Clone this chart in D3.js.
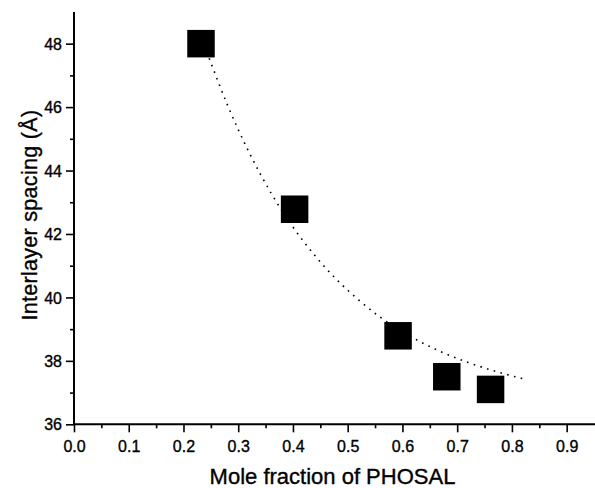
<!DOCTYPE html>
<html>
<head>
<meta charset="utf-8">
<script src="https://cdn.jsdelivr.net/npm/d3@7"></script>
<style>
  html, body { margin: 0; padding: 0; background: #fff; }
  svg { display: block; }
  text { font-family: "Liberation Sans", Arial, Helvetica, sans-serif; fill: #000; stroke: #000; stroke-width: 0.35px; }
</style>
</head>
<body>
<svg id="chart" width="595" height="488"></svg>
<script>
// ---- data ----
const moleFraction = [0.232, 0.403, 0.592, 0.681, 0.761];
const spacing      = [48.0, 42.78, 38.79, 37.50, 37.10];

// dotted fit curve
const curveX = [0.247, 0.28, 0.32, 0.36, 0.40, 0.44, 0.48, 0.52, 0.56, 0.62, 0.67, 0.72, 0.77, 0.824];
const curveY = [47.54, 46.08, 44.57, 43.29, 42.22, 41.32, 40.56, 39.92, 39.37, 38.72, 38.29, 37.95, 37.67, 37.42];

const xMajorTicks = [0, 0.1, 0.2, 0.3, 0.4, 0.5, 0.6, 0.7, 0.8, 0.9];
const xMinorTicks = [0.05, 0.15, 0.25, 0.35, 0.45, 0.55, 0.65, 0.75, 0.85];
const yMajorTicks = [36, 38, 40, 42, 44, 46, 48];
const yMinorTicks = [37, 39, 41, 43, 45, 47];

const xTitle = "Mole fraction of PHOSAL";
const yTitle = "Interlayer spacing (Å)";

// ---- layout ----
const svg = d3.select("#chart");
const x = d3.scaleLinear().domain([0, 0.95]).range([74, 74 + 547.4 * 0.95]);
const y = d3.scaleLinear().domain([36, 49]).range([424.3, 424.3 - 31.72 * 13]);

// x axis
const gx = svg.append("g").attr("transform", `translate(0,${y(36)})`);
gx.call(d3.axisBottom(x).tickValues(xMajorTicks).tickFormat(d3.format(".1f")).tickSize(8).tickPadding(8));
gx.append("g").call(d3.axisBottom(x).tickValues(xMinorTicks).tickFormat("").tickSize(4))
  .select(".domain").remove();
gx.select(".domain").attr("d", `M${x(0)},0H595`);

// y axis
const gy = svg.append("g").attr("transform", `translate(${x(0)},0)`);
gy.call(d3.axisLeft(y).tickValues(yMajorTicks).tickFormat(d3.format("d")).tickSize(8).tickPadding(4));
gy.append("g").call(d3.axisLeft(y).tickValues(yMinorTicks).tickFormat("").tickSize(4))
  .select(".domain").remove();
gy.select(".domain").attr("d", `M0,${y(49)}V${y(36)}`);

svg.selectAll(".domain").attr("stroke", "#000").attr("stroke-width", 2);
svg.selectAll(".tick line").attr("stroke", "#000").attr("stroke-width", 1.6);
gx.selectAll(".tick text").attr("font-size", 16).attr("font-family", null);
gy.selectAll(".tick text").attr("font-size", 16).attr("font-family", null).attr("dy", "0.35em");

// axis titles
svg.append("text")
  .attr("x", (x(0) + 595) / 2 - 2)
  .attr("y", 484)
  .attr("text-anchor", "middle")
  .attr("font-size", 22)
  .text(xTitle);

svg.append("text")
  .attr("transform", `translate(37,${(y(36) + y(49)) / 2 - 3}) rotate(-90)`)
  .attr("text-anchor", "middle")
  .attr("font-size", 21.5)
  .attr("letter-spacing", 0.3)
  .text(yTitle);

// dotted curve
const curvePts = curveX.map((d, i) => [d, curveY[i]]);
svg.append("path")
  .datum(curvePts)
  .attr("fill", "none")
  .attr("stroke", "#000")
  .attr("stroke-width", 1.6)
  .attr("stroke-dasharray", "1.6,5.4")
  .attr("d", d3.line().x(d => x(d[0])).y(d => y(d[1])).curve(d3.curveMonotoneX));

// square markers
const size = 27.5;
svg.append("g").selectAll("rect")
  .data(moleFraction.map((d, i) => [d, spacing[i]]))
  .join("rect")
  .attr("x", d => x(d[0]) - size / 2)
  .attr("y", d => y(d[1]) - size / 2)
  .attr("width", size)
  .attr("height", size)
  .attr("fill", "#000");
</script>
</body>
</html>
